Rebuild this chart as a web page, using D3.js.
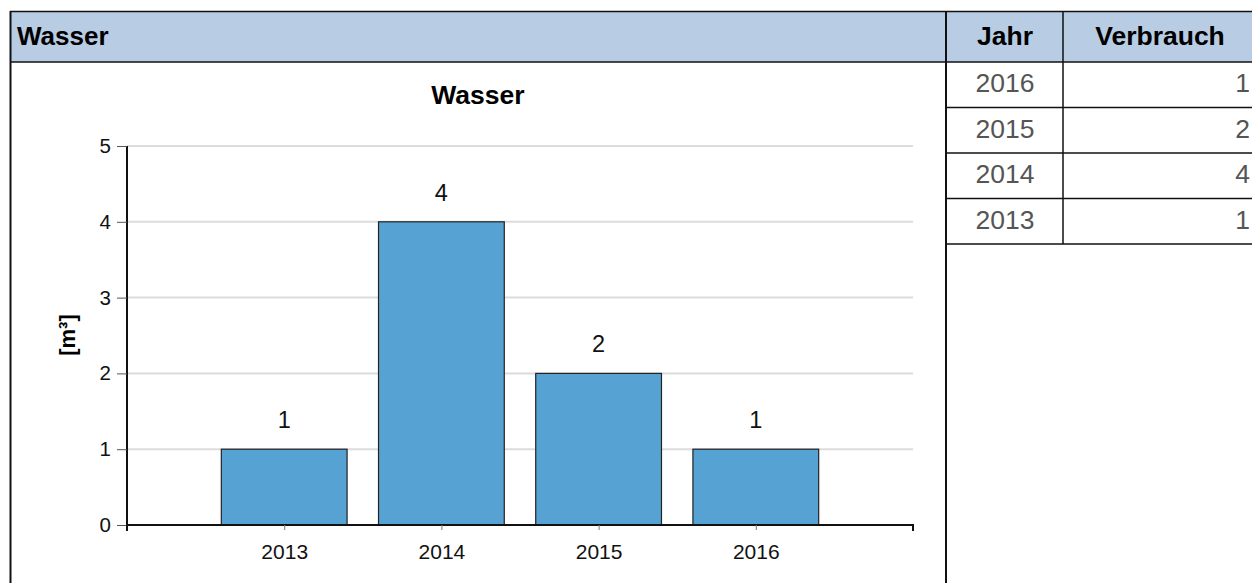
<!DOCTYPE html>
<html lang="de">
<head>
<meta charset="UTF-8">
<title>Wasser</title>
<script src="https://d3js.org/d3.v7.min.js"></script>
<style>
    body { margin: 0; background: #fff; font-family: "Liberation Sans", Arial, sans-serif; }
    svg text { font-family: "Liberation Sans", Arial, sans-serif; }
</style>
</head>
<body>
<svg id="viz" width="1252" height="583"></svg>
<script>
// data
const years = ["2013", "2014", "2015", "2016"];
const verbrauch = [1, 4, 2, 1];
const yTicks = [0, 1, 2, 3, 4, 5];
const tableYears = ["2016", "2015", "2014", "2013"];
const tableValues = [1, 2, 4, 1];

const svg = d3.select("#viz");
const headFill = "#b8cce4";

// panel header
svg.append("rect").attr("x", 10).attr("y", 11).attr("width", 936).attr("height", 51)
    .attr("fill", headFill);
svg.append("text").attr("x", 17).attr("y", 45)
    .attr("font-size", 26).attr("font-weight", "bold").text("Wasser");

// table header
svg.append("rect").attr("x", 946).attr("y", 11).attr("width", 320).attr("height", 51)
    .attr("fill", headFill);
svg.append("text").attr("x", 1005).attr("y", 45).attr("text-anchor", "middle")
    .attr("font-size", 26.5).attr("font-weight", "bold").text("Jahr");
svg.append("text").attr("x", 1160).attr("y", 45).attr("text-anchor", "middle")
    .attr("font-size", 26.5).attr("font-weight", "bold").text("Verbrauch");

// table rows
const rowH = 45.5;
tableYears.forEach((yr, i) => {
    const rowTop = 62 + i * rowH;
    svg.append("text").attr("x", 1005).attr("y", rowTop + 30).attr("text-anchor", "middle")
        .attr("font-size", 26.5).attr("fill", "#555").text(yr);
    svg.append("text").attr("x", 1250).attr("y", rowTop + 30).attr("text-anchor", "end")
        .attr("font-size", 26.5).attr("fill", "#555").text(tableValues[i]);
    svg.append("line").attr("x1", 946).attr("x2", 1252)
        .attr("y1", rowTop + rowH).attr("y2", rowTop + rowH)
        .attr("stroke", "#111").attr("stroke-width", 1.5);
});
svg.append("line").attr("x1", 1063).attr("x2", 1063).attr("y1", 11).attr("y2", 62 + 4 * rowH)
    .attr("stroke", "#111").attr("stroke-width", 1.5);

// borders
svg.append("line").attr("x1", 10).attr("x2", 1252).attr("y1", 11.5).attr("y2", 11.5)
    .attr("stroke", "#111").attr("stroke-width", 1.5);
svg.append("line").attr("x1", 10).attr("x2", 1252).attr("y1", 62).attr("y2", 62)
    .attr("stroke", "#111").attr("stroke-width", 1.5);
svg.append("line").attr("x1", 10.5).attr("x2", 10.5).attr("y1", 11).attr("y2", 583)
    .attr("stroke", "#111").attr("stroke-width", 2);
svg.append("line").attr("x1", 946).attr("x2", 946).attr("y1", 11).attr("y2", 583)
    .attr("stroke", "#111").attr("stroke-width", 2);

// chart
const plotLeft = 127, plotRight = 913, plotTop = 146, plotBottom = 525;
const x = d3.scalePoint().domain(years).range([plotLeft, plotRight]).padding(1);
const y = d3.scaleLinear().domain([0, 5]).range([plotBottom, plotTop]);
const barW = x.step() * 0.8;

svg.append("text").attr("x", 478).attr("y", 104).attr("text-anchor", "middle")
    .attr("font-size", 26.5).attr("font-weight", "bold").text("Wasser");

svg.append("text").attr("transform", `translate(75,335) rotate(-90)`)
    .attr("text-anchor", "middle").attr("font-size", 22).attr("font-weight", "bold").text("[m³]");

// grid
svg.append("g").selectAll("line").data(yTicks.filter(d => d > 0)).join("line")
    .attr("x1", plotLeft).attr("x2", plotRight)
    .attr("y1", d => y(d)).attr("y2", d => y(d))
    .attr("stroke", "#dcdcdc").attr("stroke-width", 2);

// y axis
const yAxis = svg.append("g").attr("transform", `translate(${plotLeft},0)`)
    .call(d3.axisLeft(y).tickValues(yTicks).tickFormat(d3.format("d")).tickSize(10).tickPadding(6));
yAxis.select(".domain").attr("stroke", "#111").attr("stroke-width", 2).attr("d", `M0,${plotTop}V${plotBottom}`);
yAxis.selectAll(".tick line").attr("stroke", "#555");
yAxis.selectAll(".tick text").attr("font-size", 20.5).attr("fill", "#111")
    .style("font-family", "Liberation Sans, Arial, sans-serif");

// bars
svg.append("g").selectAll("rect").data(years).join("rect")
    .attr("x", (d) => x(d) - barW / 2)
    .attr("y", (d, i) => y(verbrauch[i]))
    .attr("width", barW)
    .attr("height", (d, i) => y(0) - y(verbrauch[i]))
    .attr("fill", "#56a2d3").attr("stroke", "#222").attr("stroke-width", 1.2);

svg.append("g").selectAll("text").data(years).join("text")
    .attr("x", d => x(d))
    .attr("y", (d, i) => y(verbrauch[i]) - 21)
    .attr("text-anchor", "middle").attr("font-size", 23.5).attr("fill", "#111")
    .text((d, i) => verbrauch[i]);

// x axis
const xAxis = svg.append("g").attr("transform", `translate(0,${plotBottom})`)
    .call(d3.axisBottom(x).tickSize(5).tickPadding(14));
xAxis.select(".domain").attr("stroke", "#111").attr("stroke-width", 2).attr("d", `M${plotLeft},6V0H${plotRight}V6`);
xAxis.selectAll(".tick line").attr("stroke", "#777");
xAxis.selectAll(".tick text").attr("font-size", 21).attr("fill", "#111")
    .style("font-family", "Liberation Sans, Arial, sans-serif");
</script>
</body>
</html>
